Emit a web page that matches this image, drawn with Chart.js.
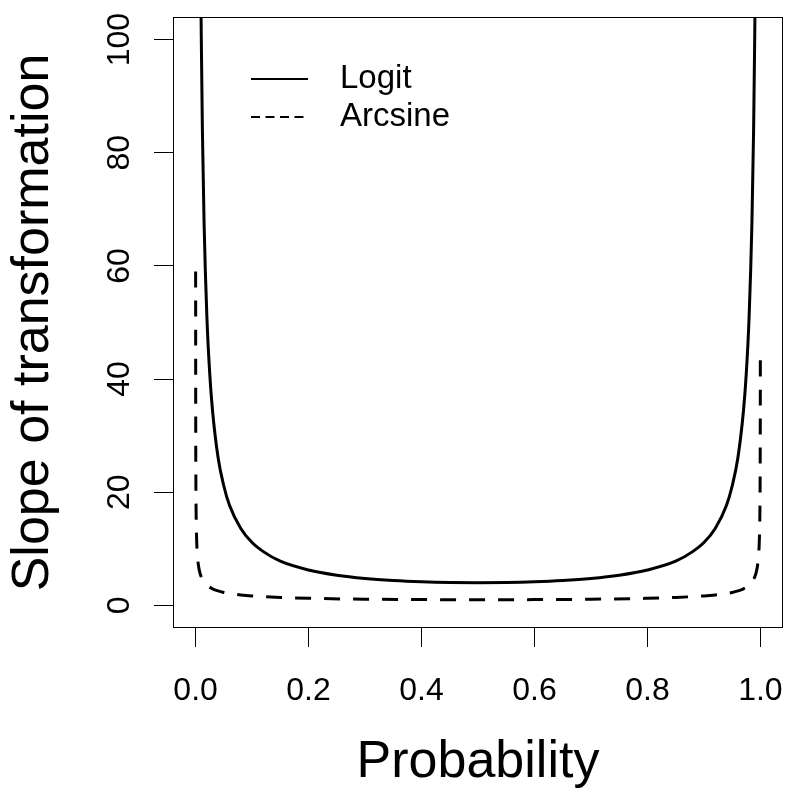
<!DOCTYPE html>
<html>
<head>
<meta charset="utf-8">
<title>Slope of transformation</title>
<script src="https://cdn.jsdelivr.net/npm/chart.js@4.4.1/dist/chart.umd.min.js"></script>
<style>
  html, body { margin: 0; padding: 0; background: #fff; }
  canvas { display: block; }
</style>
</head>
<body>
<canvas id="slopeChart" width="787" height="791"></canvas>
<script>
// ---------- Data ----------
const xTicks = [0, 0.2, 0.4, 0.6, 0.8, 1.0];
const yTicks = [0, 20, 40, 60, 80, 100];

const probLogit = [0.009, 0.01, 0.012, 0.015, 0.02, 0.025, 0.03, 0.04, 0.05, 0.06,
    0.08, 0.1, 0.12, 0.15, 0.2, 0.25, 0.3, 0.35, 0.4, 0.45, 0.5,
    0.55, 0.6, 0.65, 0.7, 0.75, 0.8, 0.85, 0.88, 0.9, 0.92,
    0.94, 0.95, 0.96, 0.97, 0.975, 0.98, 0.985, 0.988, 0.99, 0.991];
const slopeLogit = [112.1, 101.0, 84.3, 67.7, 51.0, 41.0, 34.4, 26.0, 21.1, 17.7,
    13.6, 11.1, 9.5, 7.8, 6.25, 5.33, 4.76, 4.40, 4.17, 4.04, 4.00,
    4.04, 4.17, 4.40, 4.76, 5.33, 6.25, 7.8, 9.5, 11.1, 13.6,
    17.7, 21.1, 26.0, 34.4, 41.0, 51.0, 67.7, 84.3, 101.0, 112.1];

const probArcsine = [0.00007, 0.0002, 0.0005, 0.001, 0.002, 0.003, 0.005, 0.0075, 0.01, 0.015,
    0.02, 0.03, 0.04, 0.05, 0.06, 0.08, 0.1, 0.15, 0.2, 0.3, 0.4, 0.5,
    0.6, 0.7, 0.8, 0.85, 0.9, 0.92, 0.94, 0.95, 0.96, 0.97,
    0.98, 0.985, 0.99, 0.9925, 0.995, 0.997, 0.998, 0.999, 0.9995, 0.9998, 0.99988];
const slopeArcsine = [59.0, 35.4, 22.4, 15.8, 11.2, 9.1, 7.1, 5.8, 5.03, 4.11,
    3.57, 2.93, 2.55, 2.29, 2.10, 1.84, 1.67, 1.40, 1.25, 1.09, 1.02, 1.00,
    1.02, 1.09, 1.25, 1.40, 1.67, 1.84, 2.10, 2.29, 2.55, 2.93,
    3.57, 4.11, 5.03, 5.8, 7.1, 9.1, 11.2, 15.8, 22.4, 35.4, 45.0];

const toPoints = (xs, ys) => xs.map((x, i) => ({ x: x, y: ys[i] }));

Chart.defaults.font.family = '"Liberation Sans", Arial, Helvetica, sans-serif';
Chart.defaults.color = '#000';

// Fixed axis sizes, no extra label overflow padding
const fixSize = (prop, size) => (scale) => {
    scale[prop] = size;
    scale.paddingLeft = scale.paddingRight = 0;
    scale.paddingTop = scale.paddingBottom = 0;
};

// Frame around the plot region (R style box)
const boxPlugin = {
    id: 'plotBox',
    afterDatasetsDraw(chart) {
        const { ctx, chartArea: a } = chart;
        ctx.save();
        ctx.strokeStyle = '#000';
        ctx.lineWidth = 1;
        ctx.strokeRect(Math.round(a.left) + 0.5, Math.round(a.top) + 0.5,
            Math.round(a.right - a.left) - 1, Math.round(a.bottom - a.top) - 1);
        ctx.restore();
    }
};

// Legend inside the plot, top left
const insetLegend = {
    id: 'insetLegend',
    afterDraw(chart) {
        const { ctx, chartArea: a } = chart;
        const lineX0 = a.left + 78, textX = a.left + 167;
        const dashes = [[], [9, 5.5]];
        const lens = [57, 52.5];
        ctx.save();
        ctx.font = '33px "Liberation Sans", Arial, sans-serif';
        ctx.textBaseline = 'middle';
        ctx.fillStyle = '#000';
        chart.data.datasets.forEach((ds, i) => {
            const y = a.top + 62 + i * 38;
            ctx.strokeStyle = '#000';
            ctx.lineWidth = 2;
            ctx.setLineDash(dashes[i]);
            ctx.beginPath();
            ctx.moveTo(lineX0, y);
            ctx.lineTo(lineX0 + lens[i], y);
            ctx.stroke();
            ctx.setLineDash([]);
            ctx.fillText(ds.label, textX, y);
        });
        ctx.restore();
    }
};

const ctx = document.getElementById('slopeChart').getContext('2d');
new Chart(ctx, {
    type: 'line',
    data: {
        datasets: [{
            label: 'Logit',
            data: toPoints(probLogit, slopeLogit),
            borderColor: '#000',
            borderWidth: 3,
            pointRadius: 0,
            fill: false,
            cubicInterpolationMode: 'monotone'
        }, {
            label: 'Arcsine',
            data: toPoints(probArcsine, slopeArcsine),
            borderColor: '#000',
            borderWidth: 3,
            borderDash: [16, 13],
            pointRadius: 0,
            fill: false,
            cubicInterpolationMode: 'monotone'
        }]
    },
    options: {
        responsive: false,
        animation: false,
        devicePixelRatio: 1,
        layout: { padding: { top: 17, right: 4, left: 0, bottom: 0 } },
        plugins: {
            legend: { display: false },
            tooltip: { enabled: false }
        },
        scales: {
            x: {
                type: 'linear',
                min: -0.04,
                max: 1.04,
                afterBuildTicks: (scale) => { scale.ticks = xTicks.map(v => ({ value: v })); },
                afterFit: fixSize('height', 163),
                border: { display: false },
                grid: { drawOnChartArea: false, drawTicks: true, tickLength: 19, color: '#000', lineWidth: 1 },
                ticks: {
                    font: { size: 32 },
                    padding: 25,
                    maxRotation: 0,
                    autoSkip: false,
                    callback: (val) => Number(val).toFixed(1)
                },
                title: {
                    display: true,
                    text: 'Probability',
                    font: { size: 52, lineHeight: 1.1 },
                    padding: 0
                }
            },
            y: {
                min: -4,
                max: 104,
                afterBuildTicks: (scale) => { scale.ticks = yTicks.map(v => ({ value: v })); },
                afterFit: fixSize('width', 173),
                border: { display: false },
                grid: { drawOnChartArea: false, drawTicks: true, tickLength: 19, color: '#000', lineWidth: 1 },
                ticks: {
                    font: { size: 32 },
                    padding: 7,
                    minRotation: 90,
                    maxRotation: 90,
                    crossAlign: 'center',
                    autoSkip: false,
                    callback: (val) => String(val)
                },
                title: {
                    display: true,
                    text: 'Slope of transformation',
                    font: { size: 52, lineHeight: 1.1 },
                    padding: { top: 5, bottom: 0 }
                }
            }
        }
    },
    plugins: [boxPlugin, insetLegend]
});
</script>
</body>
</html>
